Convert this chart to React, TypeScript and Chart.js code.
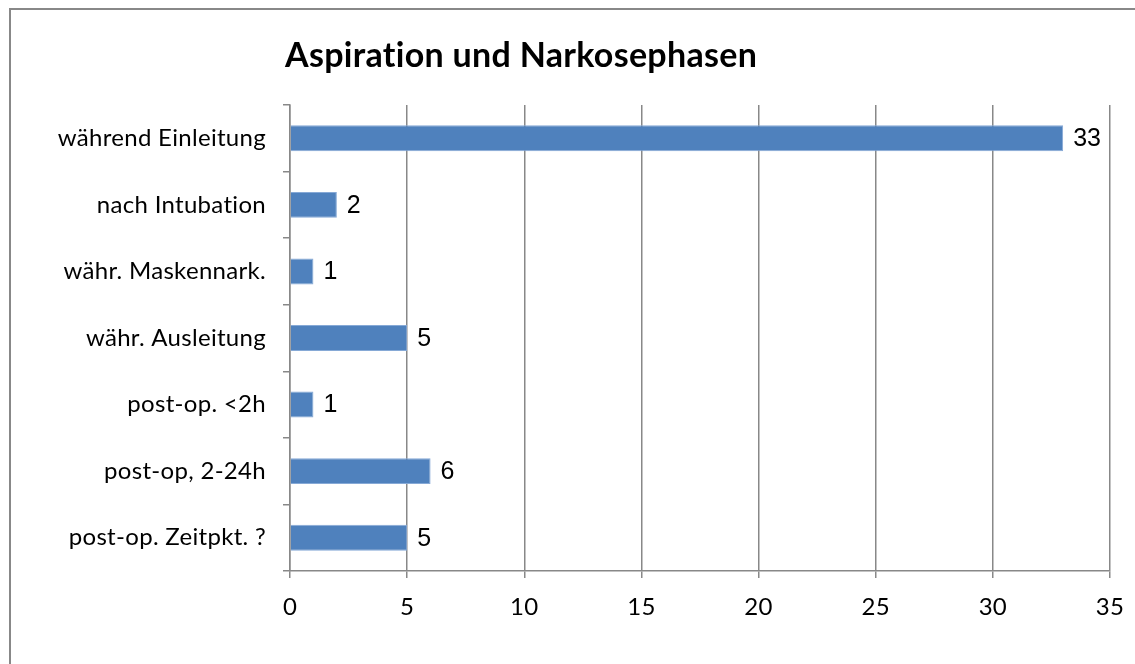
import React, { useEffect, useRef } from "react";
import { Chart, registerables } from "chart.js";

Chart.register(...registerables);

const chartTitle = "Aspiration und Narkosephasen";
const categories = [
  "während Einleitung",
  "nach Intubation",
  "währ. Maskennark.",
  "währ. Ausleitung",
  "post-op. <2h",
  "post-op, 2-24h",
  "post-op. Zeitpkt. ?",
];
const values = [33, 2, 1, 5, 1, 6, 5];
const xMin = 0;
const xMax = 35;
const xStep = 5;

const GRID = "#888888";
const BAR = "#4F81BD";

export default function App() {
  const ref = useRef<HTMLCanvasElement | null>(null);

  useEffect(() => {
    if (!ref.current) return;

    const framePlugin = {
      id: "frame",
      beforeDraw(chart: any) {
        const ctx = chart.ctx;
        ctx.save();
        ctx.fillStyle = "#ffffff";
        ctx.fillRect(0, 0, chart.width, chart.height);
        ctx.strokeStyle = GRID;
        ctx.lineWidth = 2;
        ctx.beginPath();
        ctx.moveTo(10, chart.height + 2);
        ctx.lineTo(10, 9);
        ctx.lineTo(chart.width + 2, 9);
        ctx.stroke();
        ctx.restore();
        // break optional ligatures (e.g. "ti") for the tick labels
        ctx.letterSpacing = "0.3px";
      },
    };

    const titlePlugin = {
      id: "leftTitle",
      afterDraw(chart: any) {
        const ctx = chart.ctx;
        ctx.save();
        ctx.letterSpacing = "0.3px";
        ctx.fillStyle = "#000";
        ctx.font = "bold 34px Lato";
        ctx.textAlign = "left";
        ctx.textBaseline = "middle";
        ctx.fillText(chartTitle, chart.chartArea.left - 5, 56);
        ctx.restore();
      },
    };

    const labelPlugin = {
      id: "valueLabels",
      afterDatasetsDraw(chart: any) {
        const ctx = chart.ctx;
        const meta = chart.getDatasetMeta(0);
        ctx.save();
        ctx.letterSpacing = "0px";
        ctx.fillStyle = "#000";
        ctx.font = "25px 'Liberation Sans'";
        ctx.textAlign = "left";
        ctx.textBaseline = "middle";
        meta.data.forEach((bar: any, i: number) => {
          ctx.fillText(String(values[i]), bar.x + 10, bar.y + 1);
        });
        ctx.restore();
      },
    };

    const chart = new Chart(ref.current, {
      type: "bar",
      data: {
        labels: categories,
        datasets: [
          {
            data: values,
            backgroundColor: BAR,
            borderColor: "#86A9D6",
            borderWidth: 1,
            barPercentage: 0.39,
            categoryPercentage: 1,
          },
        ],
      },
      options: {
        indexAxis: "y",
        responsive: false,
        animation: false,
        devicePixelRatio: 1,
        layout: { padding: { top: 105, right: 25, bottom: 33, left: 0 } },
        plugins: {
          legend: { display: false },
          title: { display: false },
          tooltip: { enabled: false },
        },
        scales: {
          x: {
            type: "linear",
            min: xMin,
            max: xMax,
            ticks: {
              stepSize: xStep,
              padding: 15,
              color: "#000",
              font: { family: "Lato", size: 24 },
            },
            grid: { color: GRID, lineWidth: 1.5, tickLength: 7, drawTicks: true },
            border: { color: GRID, width: 1.5 },
            afterFit: (s: any) => {
              s.height = 60;
              s.paddingLeft = 0;
              s.paddingRight = 0;
            },
          },
          y: {
            type: "category",
            offset: true,
            ticks: {
              padding: 17,
              color: "#000",
              font: { family: "Lato", size: 24 },
            },
            grid: {
              offset: true,
              drawOnChartArea: false,
              drawTicks: true,
              tickLength: 7,
              color: GRID,
              lineWidth: 1.5,
            },
            border: { color: GRID, width: 1.5 },
            afterFit: (s: any) => {
              s.width = 290;
              s.paddingTop = 0;
              s.paddingBottom = 0;
            },
          },
        },
      },
      plugins: [framePlugin, titlePlugin, labelPlugin],
    });

    return () => chart.destroy();
  }, []);

  return (
    <div style={{ position: "fixed", left: 0, top: 0, width: 1135, height: 664, background: "#fff" }}>
      <canvas ref={ref} width={1135} height={664} style={{ width: 1135, height: 664, display: "block" }} />
    </div>
  );
}
